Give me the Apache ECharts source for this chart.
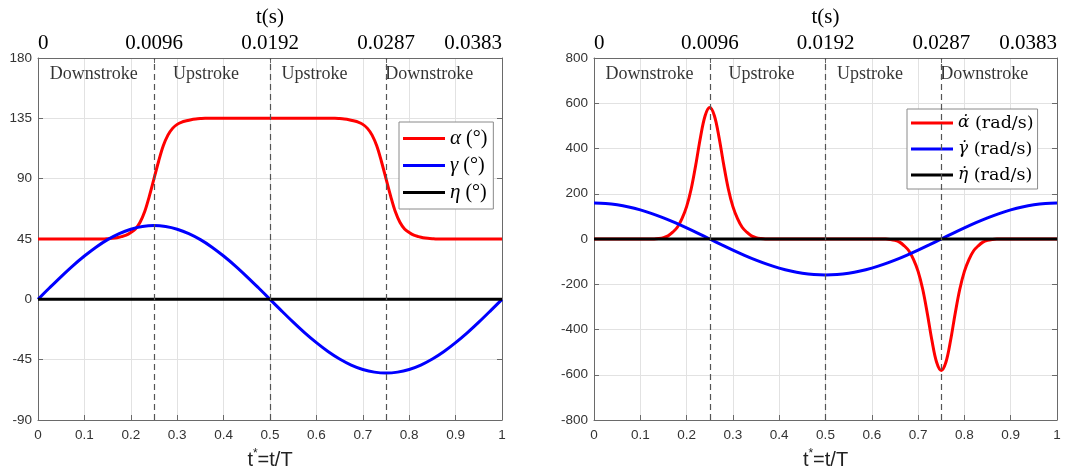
<!DOCTYPE html>
<html>
<head>
<meta charset="utf-8">
<script src="https://cdn.jsdelivr.net/npm/echarts@6/dist/echarts.min.js"></script>
<style>
  html, body { margin: 0; padding: 0; background: #fff; }
  #chart { width: 1081px; height: 475px; }
</style>
</head>
<body>
<div id="chart"></div>
<script>
// Normalised time samples t* = t/T
const tFine = [0.00,0.01,0.02,0.03,0.04,0.05,0.06,0.07,0.08,0.09,
  0.10,0.11,0.12,0.13,0.14,0.15,0.16,0.17,0.18,0.19,
  0.20,0.21,0.22,0.23,0.24,0.25,0.26,0.27,0.28,0.29,
  0.30,0.31,0.32,0.33,0.34,0.35,0.36,0.37,0.38,0.39,
  0.40,0.41,0.42,0.43,0.44,0.45,0.46,0.47,0.48,0.49,
  0.50,0.51,0.52,0.53,0.54,0.55,0.56,0.57,0.58,0.59,
  0.60,0.61,0.62,0.63,0.64,0.65,0.66,0.67,0.68,0.69,
  0.70,0.71,0.72,0.73,0.74,0.75,0.76,0.77,0.78,0.79,
  0.80,0.81,0.82,0.83,0.84,0.85,0.86,0.87,0.88,0.89,
  0.90,0.91,0.92,0.93,0.94,0.95,0.96,0.97,0.98,0.99,1.00];
const tCoarse = [0,0.025,0.05,0.075,0.1,0.125,0.15,0.175,0.2,0.225,
  0.25,0.275,0.3,0.325,0.35,0.375,0.4,0.425,0.45,0.475,
  0.5,0.525,0.55,0.575,0.6,0.625,0.65,0.675,0.7,0.725,
  0.75,0.775,0.8,0.825,0.85,0.875,0.9,0.925,0.95,0.975,1];
const tEnds = [0, 1];

// Pitch angle alpha (deg), sampled on tFine
const alphaDeg = [45,45,45,45,45,45,45,45,45,45,
  45,45,45,45,45,45.2,45.5,46,46.8,47.8,
  49.8,52.5,57.5,65.5,77,90,103,114.5,122.5,127.5,
  130.5,132.2,133.2,134,134.5,134.8,135,135,135,135,
  135,135,135,135,135,135,135,135,135,135,
  135,135,135,135,135,135,135,135,135,135,
  135,135,135,135,135,134.8,134.5,134,133.2,132.2,
  130.5,127.5,122.5,114.5,103,90,77,65.5,57.5,52.5,
  49.8,47.8,46.8,46,45.5,45.2,45,45,45,45,
  45,45,45,45,45,45,45,45,45,45,45];
// Sweep angle gamma (deg), sampled on tCoarse
const gammaDeg = [0,8.6,17.0,25.0,32.3,38.9,44.5,49.0,52.3,54.3,
  55,54.3,52.3,49.0,44.5,38.9,32.3,25.0,17.0,8.6,
  0,-8.6,-17.0,-25.0,-32.3,-38.9,-44.5,-49.0,-52.3,-54.3,
  -55,-54.3,-52.3,-49.0,-44.5,-38.9,-32.3,-25.0,-17.0,-8.6,0];
// Deviation angle eta (deg), sampled on tEnds
const etaDeg = [0, 0];

// Angular rates (rad/s)
const alphaRate = [0,0,0,0,0,0,0,0,0,0,
  0,0,0,0,2,6,14,30,52,90,
  143,222,330,450,545,581,545,450,330,222,
  143,90,52,30,14,6,2,0,0,0,
  0,0,0,0,0,0,0,0,0,0,
  0,0,0,0,0,0,0,0,0,0,
  0,0,0,0,-2,-6,-14,-30,-52,-90,
  -143,-222,-330,-450,-545,-581,-545,-450,-330,-222,
  -143,-90,-52,-30,-14,-6,-2,0,0,0,
  0,0,0,0,0,0,0,0,0,0,0];
const gammaRate = [159,157.0,151.2,141.7,128.6,112.4,93.5,72.2,49.1,24.9,
  0,-24.9,-49.1,-72.2,-93.5,-112.4,-128.6,-141.7,-151.2,-157.0,
  -159,-157.0,-151.2,-141.7,-128.6,-112.4,-93.5,-72.2,-49.1,-24.9,
  0,24.9,49.1,72.2,93.5,112.4,128.6,141.7,151.2,157.0,159];
const etaRate = [0, 0];

// Axis annotations
const topTickLabels = ['0', '0.0096', '0.0192', '0.0287', '0.0383'];
const strokeDividers = [0.25, 0.5, 0.75];
const strokeNames = ['Downstroke', 'Upstroke', 'Upstroke', 'Downstroke'];
const strokeNameX = [0.12, 0.362, 0.596, 0.843];
const strokeNameYDeg = 168;
const strokeNameYRate = 729;

const SANS = '"Liberation Sans", Arial, sans-serif';
const SERIF = '"Liberation Serif", "Times New Roman", serif';
const MATH_SERIF = '"DejaVu Serif", serif';
const AXIS_COLOR = '#6a6a6a';
const LABEL_COLOR = '#333';
const GRID_COLOR = '#e2e2e2';

const pairs = (xs, ys) => xs.map((x, i) => [x, ys[i]]);

const panels = [
  { grid: { left: 38, right: 579, top: 58, bottom: 55 }, yMin: -90, yMax: 180, yStep: 45 },
  { grid: { left: 594, right: 24, top: 58, bottom: 55 }, yMin: -800, yMax: 800, yStep: 200 }
];

const xAxes = [], yAxes = [];
panels.forEach((p, g) => {
  xAxes.push({
    gridIndex: g, type: 'value', position: 'bottom', min: 0, max: 1, interval: 0.1,
    axisLine: { show: true, onZero: false, lineStyle: { color: AXIS_COLOR, width: 1 } },
    axisTick: { show: true, inside: true, length: 5, lineStyle: { color: AXIS_COLOR } },
    axisLabel: { color: LABEL_COLOR, fontSize: 13.5, fontFamily: SANS, margin: 8 },
    splitLine: { show: true, lineStyle: { color: GRID_COLOR, width: 1 } },
    name: '{t|t}{s|*}{t|=t/T}', nameLocation: 'middle', nameGap: 28,
    nameTextStyle: {
      rich: {
        t: { fontFamily: SANS, fontSize: 20, color: '#222', verticalAlign: 'bottom', lineHeight: 22 },
        s: { fontFamily: SANS, fontSize: 12, color: '#222', verticalAlign: 'top', lineHeight: 22, padding: [0, 0, 10, 0] }
      }
    }
  });
  xAxes.push({
    gridIndex: g, type: 'value', position: 'top', min: 0, max: 1, interval: 0.25,
    axisLine: { show: true, onZero: false, lineStyle: { color: AXIS_COLOR, width: 1 } },
    axisTick: { show: true, inside: true, length: 5, lineStyle: { color: AXIS_COLOR } },
    axisLabel: {
      color: '#000', fontSize: 21, fontFamily: SERIF, margin: 4,
      alignMinLabel: 'left', alignMaxLabel: 'right',
      formatter: v => topTickLabels[Math.round(v * 4)]
    },
    splitLine: { show: false },
    name: 't(s)', nameLocation: 'middle', nameGap: 27,
    nameTextStyle: { color: '#000', fontSize: 21, fontFamily: SERIF }
  });
  yAxes.push({
    gridIndex: g, type: 'value', position: 'left', min: p.yMin, max: p.yMax, interval: p.yStep,
    axisLine: { show: true, onZero: false, lineStyle: { color: AXIS_COLOR, width: 1 } },
    axisTick: { show: true, inside: true, length: 5, lineStyle: { color: AXIS_COLOR } },
    axisLabel: { color: LABEL_COLOR, fontSize: 13.5, fontFamily: SANS, margin: 6 },
    splitLine: { show: true, lineStyle: { color: GRID_COLOR, width: 1 } }
  });
  yAxes.push({
    gridIndex: g, type: 'value', position: 'right', min: p.yMin, max: p.yMax, interval: p.yStep,
    axisLine: { show: true, onZero: false, lineStyle: { color: AXIS_COLOR, width: 1 } },
    axisTick: { show: true, inside: true, length: 5, lineStyle: { color: AXIS_COLOR } },
    axisLabel: { show: false },
    splitLine: { show: false }
  });
});

function curve(name, g, xs, ys, color) {
  return {
    name, type: 'line', xAxisIndex: 2 * g, yAxisIndex: 2 * g,
    data: pairs(xs, ys), showSymbol: false, symbol: 'none', smooth: 0.35,
    lineStyle: { color, width: 3 }, itemStyle: { color },
    silent: true, z: 3
  };
}

function dividers(g) {
  return {
    type: 'line', xAxisIndex: 2 * g, yAxisIndex: 2 * g, data: [], silent: true, z: 2,
    markLine: {
      silent: true, symbol: 'none', animation: false,
      label: { show: false },
      lineStyle: { color: '#555', type: [6, 4], width: 1.2 },
      data: strokeDividers.map(x => ({ xAxis: x }))
    }
  };
}

function strokeLabels(g, y) {
  return {
    type: 'scatter', xAxisIndex: 2 * g, yAxisIndex: 2 * g, silent: true,
    symbolSize: 1, itemStyle: { color: 'rgba(0,0,0,0)' },
    data: strokeNameX.map(x => [x, y]),
    label: {
      show: true, position: 'inside', color: '#000', fontSize: 18, fontFamily: SERIF,
      formatter: p => strokeNames[p.dataIndex]
    }
  };
}

const legendBase = {
  orient: 'vertical', icon: 'rect', itemWidth: 42, itemHeight: 3,
  borderColor: '#8a8a8a', borderWidth: 1, backgroundColor: '#fff', borderRadius: 0,
  selectedMode: false
};
const degRich = {
  g: { fontFamily: SERIF, fontStyle: 'italic', fontSize: 21, color: '#000', lineHeight: 20 },
  u: { fontFamily: SERIF, fontSize: 20, color: '#000', lineHeight: 20 }
};
const rateRich = {
  g: { fontFamily: MATH_SERIF, fontStyle: 'italic', fontSize: 17, color: '#000', lineHeight: 21 },
  u: { fontFamily: MATH_SERIF, fontSize: 17.5, color: '#000', lineHeight: 21 }
};

const degNames = { 'alpha-deg': ['α', ' (°)'], 'gamma-deg': ['γ', ' (°)'], 'eta-deg': ['η', ' (°)'] };
const rateNames = { 'alpha-rate': ['α\u0307', ' (rad/s)'], 'gamma-rate': ['γ\u0307', ' (rad/s)'], 'eta-rate': ['η\u0307', ' (rad/s)'] };
const fmt = map => name => '{g|' + map[name][0] + '}{u|' + map[name][1] + '}';

const option = {
  animation: false,
  backgroundColor: '#fff',
  grid: panels.map(p => Object.assign({ containLabel: false, outerBoundsMode: 'none' }, p.grid)),
  xAxis: xAxes,
  yAxis: yAxes,
  legend: [
    Object.assign({}, legendBase, {
      data: Object.keys(degNames), left: 399, top: 122, padding: [6, 6, 6, 4], itemGap: 6,
      textStyle: { rich: degRich },
      formatter: fmt(degNames)
    }),
    Object.assign({}, legendBase, {
      data: Object.keys(rateNames), left: 907, top: 109, padding: [5, 4, 5, 4], itemGap: 8,
      textStyle: { rich: rateRich },
      formatter: fmt(rateNames)
    })
  ],
  series: [
    dividers(0),
    curve('alpha-deg', 0, tFine, alphaDeg, '#ff0000'),
    curve('gamma-deg', 0, tCoarse, gammaDeg, '#0000ff'),
    curve('eta-deg', 0, tEnds, etaDeg, '#000000'),
    strokeLabels(0, strokeNameYDeg),
    dividers(1),
    curve('alpha-rate', 1, tFine, alphaRate, '#ff0000'),
    curve('gamma-rate', 1, tCoarse, gammaRate, '#0000ff'),
    curve('eta-rate', 1, tEnds, etaRate, '#000000'),
    strokeLabels(1, strokeNameYRate)
  ]
};

const chart = echarts.init(document.getElementById('chart'), null, { renderer: 'canvas' });
chart.setOption(option);
</script>
</body>
</html>
